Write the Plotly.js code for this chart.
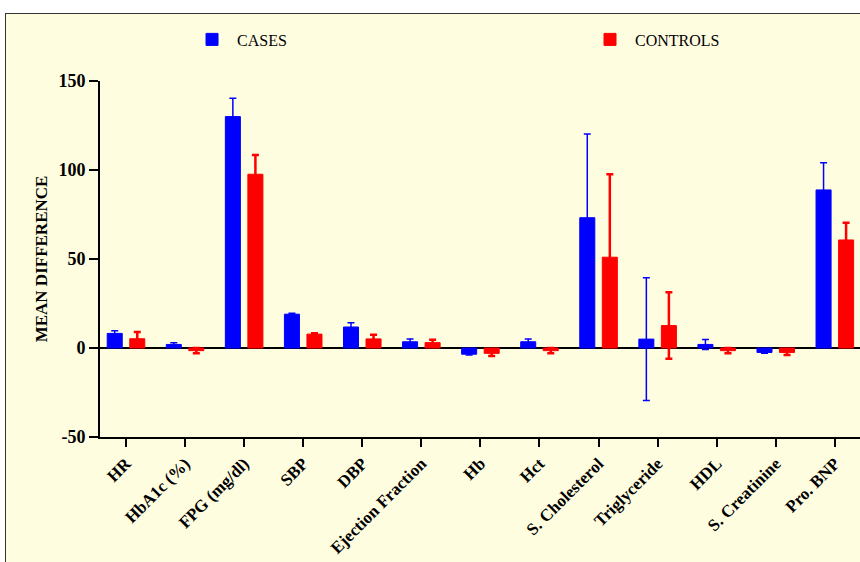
<!DOCTYPE html>
<html>
<head>
<meta charset="utf-8">
<script src="https://cdn.plot.ly/plotly-3.0.1.min.js"></script>
<style>
  html, body { margin: 0; padding: 0; background: #ffffff; width: 860px; height: 562px; overflow: hidden; }
  #chart { position: absolute; left: 5px; top: 13px; width: 856px; height: 549px;
           border-left: 1.5px solid #333; border-top: 1.5px solid #333; }
</style>
</head>
<body>
<div id="chart"></div>
<script>
const categories = ["HR", "HbA1c (%)", "FPG (mg/dl)", "SBP", "DBP", "Ejection Fraction",
  "Hb", "Hct", "S. Cholesterol", "Triglyceride", "HDL", "S. Creatinine", "Pro. BNP"];
const casesMean = [8.2, 2.0, 130.0, 19.0, 11.8, 3.5, -3.5, 3.5, 73.2, 5.0, 2.0, -2.5, 88.8];
const casesErr  = [1.5, 1.0, 10.3, 0.5, 2.4, 1.5, 0.5, 1.5, 47.0, 34.5, 2.8, 0.5, 15.3];
const controlsMean = [5.2, -1.5, 97.6, 7.8, 5.1, 3.0, -3.0, -1.5, 51.0, 12.6, -1.5, -2.5, 60.7];
const controlsErr  = [3.8, 1.5, 10.8, 0.5, 2.4, 1.6, 1.5, 1.5, 46.6, 18.7, 1.5, 1.5, 9.7];
const yTicks = [-50, 0, 50, 100, 150];

const serif = "'Liberation Serif', 'Times New Roman', serif";

const traces = [
  {
    type: "bar", name: "CASES", x: categories, y: casesMean, legend: "legend",
    marker: { color: "#0000ff", line: { color: "#0000ff", width: 1 } },
    error_y: { type: "data", array: casesErr, visible: true, color: "#0000ff", thickness: 1.5, width: 3.5 }
  },
  {
    type: "bar", name: "CONTROLS", x: categories, y: controlsMean, legend: "legend2",
    marker: { color: "#ff0000", line: { color: "#ff0000", width: 1 } },
    error_y: { type: "data", array: controlsErr, visible: true, color: "#ff0000", thickness: 2.5, width: 3.5 }
  }
];

const legendFont = { family: serif, size: 16, color: "#000" };
const layout = {
  width: 856, height: 549,
  paper_bgcolor: "#fffde0", plot_bgcolor: "#fffde0",
  margin: { l: 94, r: 0, t: 10, b: 126, pad: 0 },
  barmode: "group", bargap: 0.237, bargroupgap: 0.333,
  showlegend: true,
  legend: {
    x: 0.1142, y: 0.9625, xanchor: "left", yanchor: "middle", itemwidth: 40,
    font: legendFont, bgcolor: "rgba(0,0,0,0)"
  },
  legend2: {
    x: 0.6365, y: 0.9625, xanchor: "left", yanchor: "middle", itemwidth: 40,
    font: legendFont, bgcolor: "rgba(0,0,0,0)"
  },
  xaxis: {
    type: "category", range: [-0.44, 12.46],
    showline: true, linecolor: "#000", linewidth: 2,
    ticks: "outside", ticklen: 8, tickwidth: 2, tickcolor: "#000",
    tickangle: -45, showgrid: false, zeroline: false,
    tickfont: { family: serif, size: 17, color: "#000", weight: "bold" }
  },
  yaxis: {
    domain: [0, 0.862],
    range: [-50, 150], tickvals: yTicks, ticktext: yTicks.map(String),
    showline: true, linecolor: "#000", linewidth: 2,
    ticks: "outside", ticklen: 9, tickwidth: 2, tickcolor: "#000",
    showgrid: false, zeroline: true, zerolinecolor: "#000", zerolinewidth: 1.5,
    tickfont: { family: serif, size: 18, color: "#000", weight: "bold" },
    title: { text: "MEAN DIFFERENCE", standoff: 6,
             font: { family: serif, size: 17, color: "#000", weight: "bold" } }
  }
};

Plotly.newPlot("chart", traces, layout, { displayModeBar: false, staticPlot: true });
</script>
</body>
</html>
